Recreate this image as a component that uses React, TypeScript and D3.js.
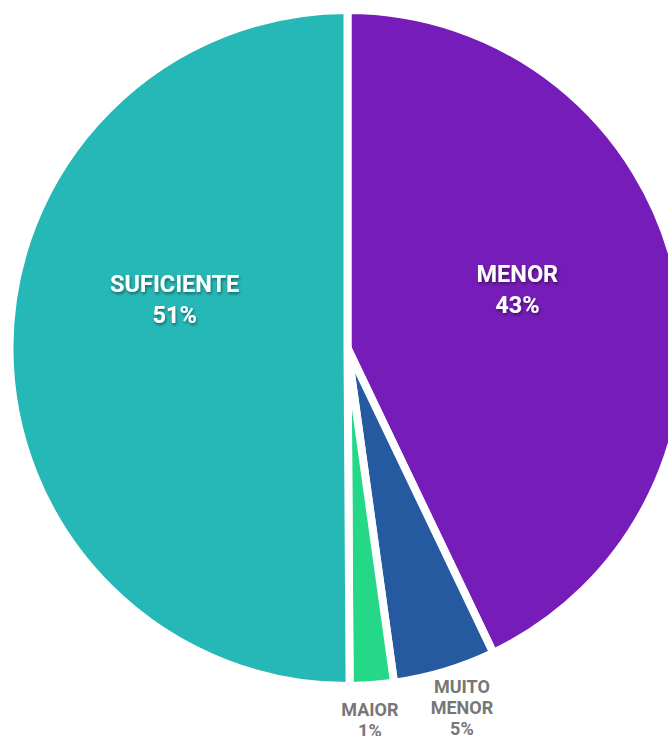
import React from "react";
import * as d3 from "d3";

const categories = ["MENOR", "MUITO MENOR", "MAIOR", "SUFICIENTE"];
const values = [42.9, 4.9, 2.1, 50.1];
const percentLabels = ["43%", "5%", "1%", "51%"];
const colors = ["#761CB8", "#265AA0", "#24D888", "#26B8B6"];
const insideLabel = [true, false, false, true];

const W = 668;
const H = 736;
const cx = 347.5;
const cy = 348;
const R = 338;

export default function App() {
  const pie = d3.pie<number>().sort(null).value((d) => d)(values);
  const arc = d3.arc<d3.PieArcDatum<number>>().innerRadius(0).outerRadius(R);

  return (
    <svg width={W} height={H} style={{ position: "absolute", left: 0, top: 0 }}>
      <defs>
        <filter id="ts" x="-20%" y="-20%" width="140%" height="160%">
          <feDropShadow dx="1" dy="2" stdDeviation="1.5" floodColor="#000" floodOpacity="0.45" />
        </filter>
      </defs>
      <g transform={`translate(${cx},${cy})`}>
        {pie.map((p, i) => (
          <path key={i} d={arc(p) || ""} fill={colors[i]} stroke="#fff" strokeWidth={8} strokeLinejoin="miter" />
        ))}
        {pie.map((p, i) => {
          const mid = (p.startAngle + p.endAngle) / 2;
          if (insideLabel[i]) {
            const a = mid + (i === 0 ? -0.1 : 0.27);
            const rr = R * 0.53;
            const x = rr * Math.sin(a);
            const y = -rr * Math.cos(a);
            return (
              <text key={"l" + i} x={x} y={y} textAnchor="middle" fill="#fff" fontFamily="Roboto, sans-serif"
                fontWeight={700} fontSize={23.5} filter="url(#ts)">
                <tspan x={x} dy={-9}>{categories[i]}</tspan>
                <tspan x={x} dy={31}>{percentLabels[i]}</tspan>
              </text>
            );
          }
          const words = categories[i].split(" ");
          const rr = R + 28;
          const x = rr * Math.sin(mid) + (i === 1 ? 9 : -4);
          const y = -rr * Math.cos(mid) + (i === 1 ? -5 : 3);
          const lines = [...words, percentLabels[i]];
          return (
            <text key={"l" + i} x={x} y={y} textAnchor="middle" fill="#777" fontFamily="Roboto, sans-serif"
              fontWeight={700} fontSize={18}>
              {lines.map((t, j) => (
                <tspan key={j} x={x} dy={j === 0 ? 0 : 21}>{t}</tspan>
              ))}
            </text>
          );
        })}
      </g>
    </svg>
  );
}
